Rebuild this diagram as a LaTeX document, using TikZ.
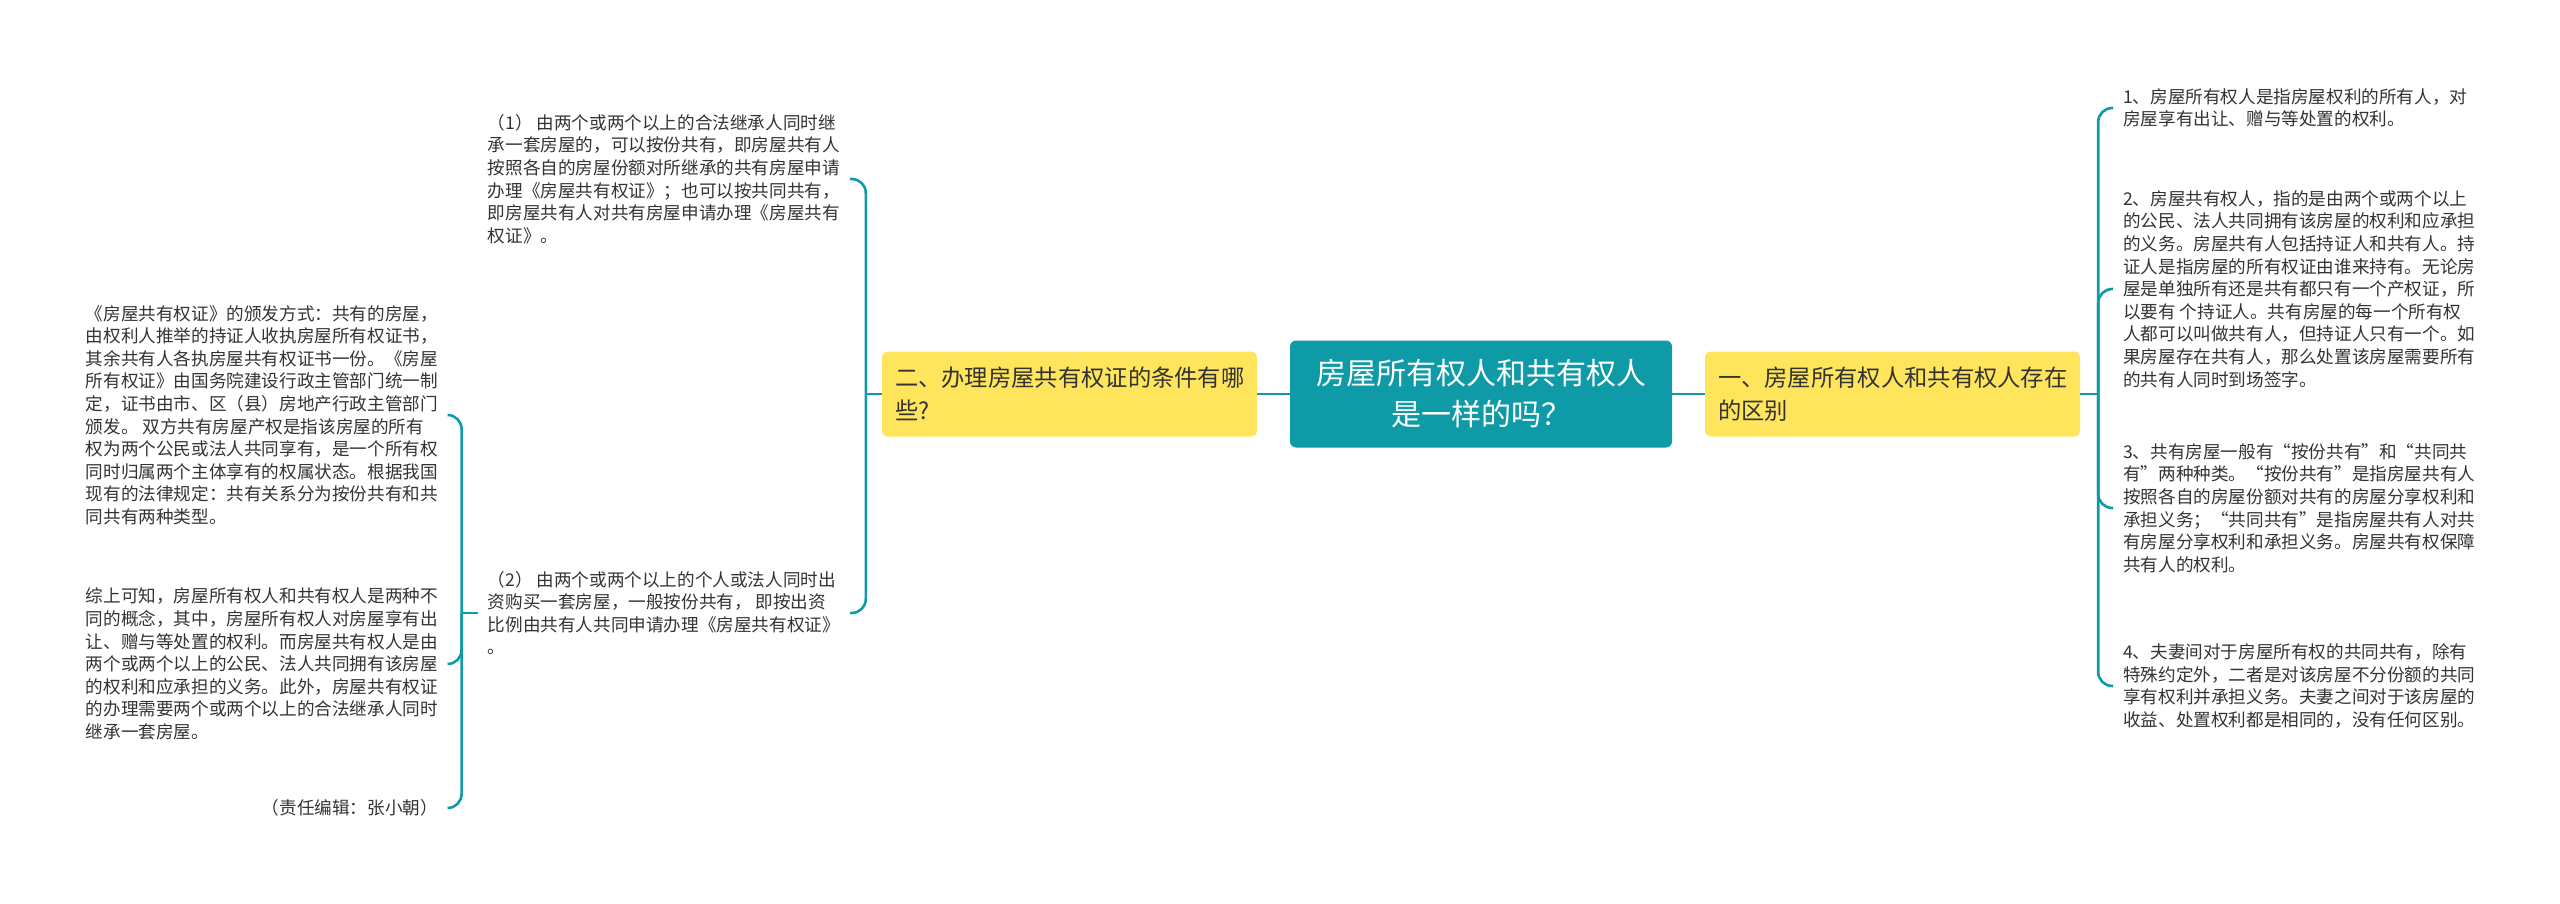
\documentclass[tikz,border=0pt]{standalone}
\usepackage{fontspec}
\setmainfont{Noto Sans CJK SC}
\definecolor{mmteal}{RGB}{14,154,167}
\definecolor{mmyellow}{RGB}{255,229,92}
\definecolor{mmtext}{RGB}{51,51,51}
\begin{document}
\begin{tikzpicture}[x=1pt, y=-1pt,
    root/.style={fill=mmteal, rounded corners=6pt, text=white, minimum width=382pt,
        minimum height=107pt, inner sep=0pt, align=center, font=\fontsize{30}{41}\selectfont},
    branch/.style={fill=mmyellow, rounded corners=6pt, text=mmtext, minimum width=375pt,
        minimum height=85pt, inner sep=0pt, text width=349pt, align=left,
        font=\fontsize{23.3}{33}\selectfont},
    leaf/.style={text=mmtext, align=left, inner xsep=10pt, inner ysep=2pt,
        font=\fontsize{17.6}{22.6}\selectfont},
    link/.style={draw=mmteal, line width=2.6pt},
    brace/.style={link, rounded corners=14pt}
]
\useasboundingbox (0,0) rectangle (2560,904);

% --- centre and the two main branches ---
\node[root] (root) at (1481,394) {房屋所有权人和共有权人\\是一样的吗？};
\node[branch] (cond) at (1069.5,394) {二、办理房屋共有权证的条件有哪\\些?};
\node[branch] (diff) at (1892.5,394) {一、房屋所有权人和共有权人存在\\的区别};

\draw[link] (root.west) -- (cond.east);
\draw[link] (root.east) -- (diff.west);

% --- left branch: conditions (1) and (2) ---
\node[leaf, anchor=east] (cond1) at (850,179) {（1） 由两个或两个以上的合法继承人同时继\\
承一套房屋的，可以按份共有，即房屋共有人\\
按照各自的房屋份额对所继承的共有房屋申请\\
办理《房屋共有权证》；也可以按共同共有，\\
即房屋共有人对共有房屋申请办理《房屋共有\\
权证》。};
\node[leaf, anchor=east] (cond2) at (850,613) {（2） 由两个或两个以上的个人或法人同时出\\
资购买一套房屋，一般按份共有， 即按出资\\
比例由共有人共同申请办理《房屋共有权证》\\
。};

\coordinate (condj) at ([xshift=-16pt]cond.west);
\draw[link] (cond.west) -- (condj);
\draw[brace] (cond1.east) -| (condj) |- (cond2.east);

% --- notes hanging from (2) ---
\node[leaf, anchor=east] (note1) at (448,415) {《房屋共有权证》的颁发方式：共有的房屋，\\
由权利人推举的持证人收执房屋所有权证书，\\
其余共有人各执房屋共有权证书一份。《房屋\\
所有权证》由国务院建设行政主管部门统一制\\
定，证书由市、区（县）房地产行政主管部门\\
颁发。 双方共有房屋产权是指该房屋的所有\\
权为两个公民或法人共同享有，是一个所有权\\
同时归属两个主体享有的权属状态。根据我国\\
现有的法律规定：共有关系分为按份共有和共\\
同共有两种类型。};
\node[leaf, anchor=east] (note2) at (448,664) {综上可知，房屋所有权人和共有权人是两种不\\
同的概念，其中，房屋所有权人对房屋享有出\\
让、赠与等处置的权利。而房屋共有权人是由\\
两个或两个以上的公民、法人共同拥有该房屋\\
的权利和应承担的义务。此外，房屋共有权证\\
的办理需要两个或两个以上的合法继承人同时\\
继承一套房屋。};
\node[leaf, anchor=east] (note3) at (448,808) {（责任编辑：张小朝）};

\coordinate (notej) at ([xshift=-16pt]cond2.west);
\draw[link] (cond2.west) -- (notej);
\draw[brace] (note1.east) -| (notej) |- (note3.east);
\draw[brace] (notej) |- (note2.east);

% --- right branch: differences 1-4 ---
\node[leaf, anchor=west] (diff1) at (2113,108) {1、房屋所有权人是指房屋权利的所有人，对\\
房屋享有出让、赠与等处置的权利。};
\node[leaf, anchor=west] (diff2) at (2113,289) {2、房屋共有权人，指的是由两个或两个以上\\
的公民、法人共同拥有该房屋的权利和应承担\\
的义务。房屋共有人包括持证人和共有人。持\\
证人是指房屋的所有权证由谁来持有。无论房\\
屋是单独所有还是共有都只有一个产权证，所\\
以要有 个持证人。共有房屋的每一个所有权\\
人都可以叫做共有人，但持证人只有一个。如\\
果房屋存在共有人，那么处置该房屋需要所有\\
的共有人同时到场签字。};
\node[leaf, anchor=west] (diff3) at (2113,508) {3、共有房屋一般有“按份共有”和“共同共\\
有”两种种类。“按份共有”是指房屋共有人\\
按照各自的房屋份额对共有的房屋分享权利和\\
承担义务；“共同共有”是指房屋共有人对共\\
有房屋分享权利和承担义务。房屋共有权保障\\
共有人的权利。};
\node[leaf, anchor=west] (diff4) at (2113,686) {4、夫妻间对于房屋所有权的共同共有，除有\\
特殊约定外，二者是对该房屋不分份额的共同\\
享有权利并承担义务。夫妻之间对于该房屋的\\
收益、处置权利都是相同的，没有任何区别。};

\coordinate (diffj) at ([xshift=18pt]diff.east);
\draw[link] (diff.east) -- (diffj);
\draw[brace] (diff1.west) -| (diffj) |- (diff4.west);
\draw[brace] (diffj) |- (diff2.west);
\draw[brace] (diffj) |- (diff3.west);

\end{tikzpicture}
\end{document}
